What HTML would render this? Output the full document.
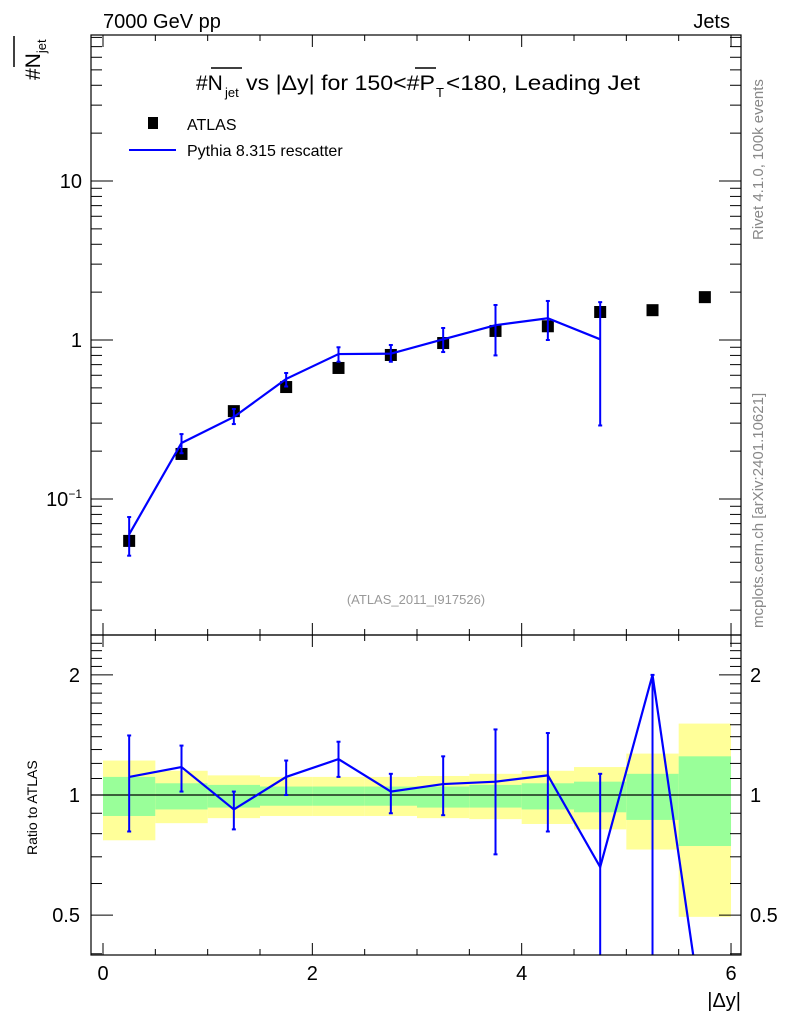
<!DOCTYPE html>
<html><head><meta charset="utf-8"><style>
html,body{margin:0;padding:0;background:#fff;overflow:hidden;width:786px;height:1024px;}
svg{display:block;font-family:"Liberation Sans",sans-serif;}
</style></head><body>
<svg id="chart" width="786" height="1024" viewBox="0 0 786 1024" xmlns="http://www.w3.org/2000/svg">
<g id="bands"></g>
<g id="marks"></g>
<g id="axes"></g>
<text x="103" y="28" font-size="20">7000 GeV pp</text>
<text x="730" y="28" font-size="20" text-anchor="end">Jets</text>
<g font-size="21">
<text x="196" y="90">#N</text>
<text x="225" y="97" font-size="13">jet</text>
<text x="246" y="90" textLength="189" lengthAdjust="spacingAndGlyphs">vs |Δy| for 150&lt;#P</text>
<text x="436" y="97" font-size="13">T</text>
<text x="446" y="90" textLength="194" lengthAdjust="spacingAndGlyphs">&lt;180, Leading Jet</text>
</g>
<line x1="211" y1="68" x2="242" y2="68" stroke="#000" stroke-width="1.5"/>
<line x1="415" y1="68" x2="436" y2="68" stroke="#000" stroke-width="1.5"/>
<rect x="148" y="117" width="10" height="12" fill="#000"/>
<text x="187" y="130" font-size="16">ATLAS</text>
<line x1="129" y1="150" x2="176" y2="150" stroke="#0000ff" stroke-width="2"/>
<text x="187" y="156" font-size="16">Pythia 8.315 rescatter</text>
<text transform="translate(40,80) rotate(-90)" font-size="21">#N<tspan font-size="13" dy="6">jet</tspan></text>
<line x1="14" y1="67" x2="14" y2="36" stroke="#000" stroke-width="1.5"/>
<text transform="translate(37,855) rotate(-90)" font-size="14">Ratio to ATLAS</text>
<text x="741" y="1007" font-size="20" text-anchor="end">|Δy|</text>
<text transform="translate(763,240) rotate(-90)" font-size="15" fill="#888">Rivet 4.1.0,  100k events</text>
<text transform="translate(763,628) rotate(-90)" font-size="15" fill="#888">mcplots.cern.ch [arXiv:2401.10621]</text>
<text x="416" y="604" font-size="13" fill="#999" text-anchor="middle">(ATLAS_2011_I917526)</text>
</svg>
<script>
const binCenters=[0.25,0.75,1.25,1.75,2.25,2.75,3.25,3.75,4.25,4.75,5.25,5.75];
const dataVals=[0.0545,0.192,0.357,0.506,0.667,0.805,0.957,1.14,1.22,1.50,1.54,1.86];
const mcX=[0.25,0.75,1.25,1.75,2.25,2.75,3.25,3.75,4.25,4.75];
const mcVals=[0.060,0.225,0.328,0.569,0.816,0.82,1.01,1.24,1.37,1.01];
const mcUp=[0.077,0.256,0.368,0.62,0.90,0.93,1.19,1.66,1.76,1.73];
const mcLo=[0.044,0.194,0.296,0.51,0.73,0.73,0.84,0.80,1.0,0.29];
const ratioX=[0.25,0.75,1.25,1.75,2.25,2.75,3.25,3.75,4.25,4.75,5.25,5.75];
const ratioVals=[1.11,1.175,0.92,1.11,1.23,1.02,1.065,1.08,1.12,0.66,2.0,0.25];
const ratioUp=[1.41,1.33,1.02,1.22,1.36,1.13,1.25,1.46,1.43,1.13,2.0,0.25];
const ratioLo=[0.81,1.02,0.82,1.0,1.11,0.90,0.89,0.71,0.81,0.01,0.01,0.25];
const yellowHi=[1.22,1.15,1.12,1.11,1.11,1.11,1.116,1.13,1.15,1.175,1.27,1.51];
const yellowLo=[0.77,0.85,0.875,0.886,0.886,0.886,0.875,0.87,0.846,0.82,0.73,0.495];
const greenHi=[1.11,1.07,1.06,1.05,1.05,1.05,1.05,1.06,1.07,1.08,1.13,1.25];
const greenLo=[0.886,0.92,0.93,0.94,0.94,0.94,0.93,0.93,0.92,0.905,0.866,0.745];
const xTicks=[0,2,4,6];
const mainTicks=[{v:0.1,l:"10<tspan font-size='12' dy='-8'>−1</tspan>"},{v:1,l:"1"},{v:10,l:"10"}];
const ratioTicks=[0.5,1,2];

const NS="http://www.w3.org/2000/svg";
const L=91,R=741,T=35,MB=635,RB=955;
const X=v=>103+v*104.67;
const Ym=v=>340-159*Math.log10(v);
const Yr=v=>795-399*Math.log10(v);
function mk(p,tag,a){const e=document.createElementNS(NS,tag);for(const k in a)e.setAttribute(k,a[k]);p.appendChild(e);return e;}
const bands=document.getElementById('bands'),marks=document.getElementById('marks'),axes=document.getElementById('axes');
const clip=v=>Math.min(Math.max(v,MB),RB);
binCenters.forEach((c,i)=>{
  let y=mk(bands,'rect',{x:X(c-0.25),width:X(0.5)-X(0),y:clip(Yr(yellowHi[i])),height:clip(Yr(yellowLo[i]))-clip(Yr(yellowHi[i])),fill:'#ffff99'});
  
  
  let g=mk(bands,'rect',{x:X(c-0.25),width:X(0.5)-X(0),y:clip(Yr(greenHi[i])),height:clip(Yr(greenLo[i]))-clip(Yr(greenHi[i])),fill:'#99ff99'});
  
  
});
mk(marks,'line',{x1:L,x2:R,y1:Yr(1),y2:Yr(1),stroke:'#000','stroke-width':1.3});
binCenters.forEach((c,i)=>{
  const r=mk(marks,'rect',{x:X(c)-6,y:Ym(dataVals[i])-6,width:12,height:12,fill:'#000'});
  
  
});
let pts=mcX.map((x,i)=>X(x)+','+Ym(mcVals[i])).join(' ');
const pl=mk(marks,'polyline',{points:pts,fill:'none',stroke:'#0000ff','stroke-width':2.2});


mcX.forEach((x,i)=>{
  const e=mk(marks,'line',{x1:X(x),x2:X(x),y1:Ym(mcUp[i]),y2:Ym(mcLo[i]),stroke:'#0000ff','stroke-width':2});
  
  
  [mcUp[i],mcLo[i]].forEach(v=>mk(marks,'line',{x1:X(x)-2,x2:X(x)+2,y1:Ym(v),y2:Ym(v),stroke:'#0000ff','stroke-width':2}));
});
const rg=mk(marks,'g',{'clip-path':'url(#rclip)'});
const cp=mk(mk(document.getElementById('chart'),'defs',{}),'clipPath',{id:'rclip'});
mk(cp,'rect',{x:L,y:MB,width:R-L,height:RB-MB});
pts=ratioX.map((x,i)=>X(x)+','+Yr(ratioVals[i])).join(' ');
const rl=mk(rg,'polyline',{points:pts,fill:'none',stroke:'#0000ff','stroke-width':2.2});


ratioX.forEach((x,i)=>{
  if(ratioUp[i]===ratioLo[i])return;
  const e=mk(rg,'line',{x1:X(x),x2:X(x),y1:Yr(ratioUp[i]),y2:Yr(ratioLo[i]),stroke:'#0000ff','stroke-width':2});
  
  
  [ratioUp[i],ratioLo[i]].forEach(v=>mk(rg,'line',{x1:X(x)-2,x2:X(x)+2,y1:Yr(v),y2:Yr(v),stroke:'#0000ff','stroke-width':2}));
});
mk(axes,'rect',{x:L,y:T,width:R-L,height:MB-T,fill:'none',stroke:'#000','stroke-width':1.2});
mk(axes,'rect',{x:L,y:MB,width:R-L,height:RB-MB,fill:'none',stroke:'#000','stroke-width':1.2});
for(let v=0;v<=6.01;v+=0.5){
  const big=Math.abs(v-Math.round(v))<0.01&&Math.round(v)%2===0;
  const len=big?12:6;
  [[T,1],[MB,-1],[MB,1],[RB,-1]].forEach(([y,d])=>mk(axes,'line',{x1:X(v),x2:X(v),y1:y,y2:y+d*len,stroke:'#000'}));
}
xTicks.forEach(v=>{const t=mk(axes,'text',{x:X(v),y:980,'font-size':20,'text-anchor':'middle'});t.textContent=v;
  
  });
for(let d=-2;d<=1;d++)for(let m=1;m<10;m++){
  const v=m*Math.pow(10,d),y=Ym(v);if(y<T||y>MB)continue;
  const len=m===1?22:11;
  mk(axes,'line',{x1:L,x2:L+len,y1:y,y2:y,stroke:'#000'});
  mk(axes,'line',{x1:R,x2:R-len,y1:y,y2:y,stroke:'#000'});
}
mainTicks.forEach(t=>{const e=mk(axes,'text',{x:82,y:Ym(t.v)+7,'font-size':20,'text-anchor':'end'});e.innerHTML=t.l;
  
  });
for(let v=0.4;v<=2.5;v+=0.1){const y=Yr(v);if(y<MB||y>RB)continue;
  const maj=[0.5,1,2].some(q=>Math.abs(q-v)<0.01);const len=maj?22:11;
  mk(axes,'line',{x1:L,x2:L+len,y1:y,y2:y,stroke:'#000'});
  mk(axes,'line',{x1:R,x2:R-len,y1:y,y2:y,stroke:'#000'});}
ratioTicks.forEach(v=>{
  const a=mk(axes,'text',{x:80,y:Yr(v)+7,'font-size':20,'text-anchor':'end'});a.textContent=v;
  
  
  const b=mk(axes,'text',{x:750,y:Yr(v)+7,'font-size':20});b.textContent=v;
  
  
});
</script>
</body></html>
